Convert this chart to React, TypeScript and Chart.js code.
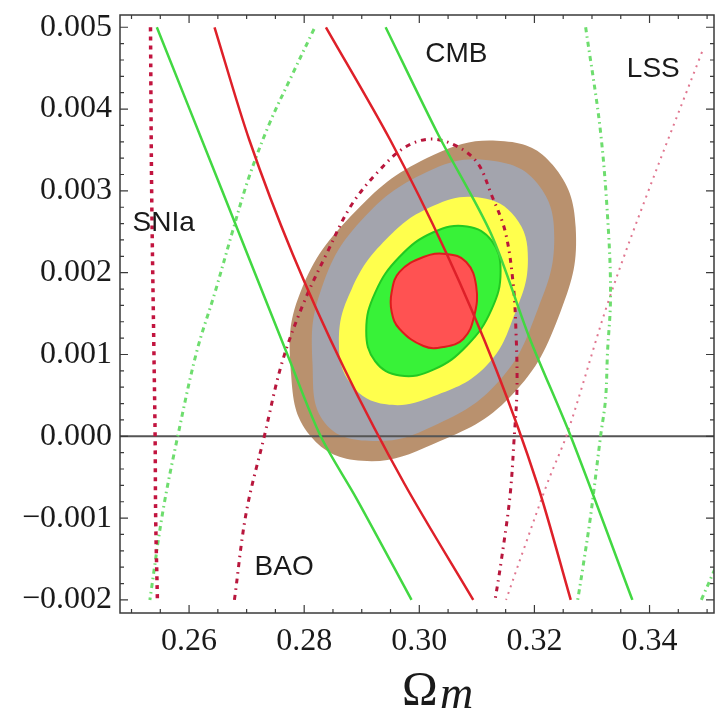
import React, { useEffect, useRef } from "react";
import { Chart, registerables } from "chart.js";

Chart.register(...registerables);

// ---- axes ----
const X_MIN = 0.248;
const X_MAX = 0.3512;
const Y_MIN = -0.00216;
const Y_MAX = 0.00515;
const xMajorTicks = [0.26, 0.28, 0.3, 0.32, 0.34];
const xMinorTicks = [0.25, 0.255, 0.26, 0.265, 0.27, 0.275, 0.28, 0.285, 0.29, 0.295, 0.3, 0.305, 0.31, 0.315, 0.32, 0.325, 0.33, 0.335, 0.34, 0.345, 0.35];
const yMajorTicks = [-0.002, -0.001, 0.0, 0.001, 0.002, 0.003, 0.004, 0.005];
const yMinorTicks = [-0.002, -0.0018, -0.0016, -0.0014, -0.0012, -0.001, -0.0008, -0.0006, -0.0004, -0.0002, 0.0, 0.0002, 0.0004, 0.0006, 0.0008, 0.001, 0.0012, 0.0014, 0.0016, 0.0018, 0.002, 0.0022, 0.0024, 0.0026, 0.0028, 0.003, 0.0032, 0.0034, 0.0036, 0.0038, 0.004, 0.0042, 0.0044, 0.0046, 0.0048, 0.005];

// ---- filled confidence regions (outer to inner), closed loops ----
const brownRegion = [[0.32717,0.002554],[0.3232,0.003317],[0.31481,0.003608],[0.30245,0.003439],[0.28897,0.002754],[0.27929,0.001752],[0.27773,0.000754],[0.28105,0.000006],[0.29009,-0.0003],[0.30245,-0.000094],[0.31593,0.000493],[0.32458,0.001532]];
const grayRegion = [[0.32345,0.002424],[0.3206,0.003084],[0.313,0.003366],[0.30245,0.003268],[0.28983,0.002632],[0.28275,0.001752],[0.28145,0.000884],[0.28361,0.000163],[0.29191,-0.000057],[0.30245,0.000126],[0.31386,0.000676],[0.3206,0.001556]];
const yellowRegion = [[0.31887,0.002163],[0.31668,0.002677],[0.31066,0.002917],[0.30245,0.002819],[0.29424,0.002408],[0.28822,0.001796],[0.28603,0.001145],[0.28822,0.000631],[0.29424,0.000391],[0.30245,0.000489],[0.31161,0.000859],[0.31668,0.001512]];
const greenRegion = [[0.31412,0.002021],[0.31256,0.002392],[0.30829,0.002565],[0.30245,0.002494],[0.29662,0.002198],[0.29234,0.001757],[0.29078,0.001287],[0.29234,0.000916],[0.29662,0.000743],[0.30245,0.000814],[0.30829,0.00111],[0.31256,0.001551]];
const redRegion = [[0.30072,0.002192],[0.3047,0.002229],[0.30815,0.002131],[0.30988,0.001838],[0.30954,0.00147],[0.30764,0.00119],[0.30418,0.001092],[0.30072,0.001104],[0.29657,0.001312],[0.2952,0.001519],[0.2952,0.001764],[0.29657,0.002009]];

// ---- constraint curves ----
const sniaDotted = [[0.2533,0.005],[0.2535,0.003],[0.2539,0.001],[0.2541,0.0],[0.2542,-0.001],[0.2545,-0.002]];
const greenSolidLeft = [[0.2544,0.005],[0.26563,0.003023],[0.27739,0.000945],[0.28287,0.0],[0.28914,-0.000767],[0.29865,-0.002]];
const greenSolidRight = [[0.29415,0.005],[0.30332,0.003683],[0.31248,0.002473],[0.31922,0.00119],[0.32631,0.0],[0.33702,-0.002]];
const redSolidLeft = [[0.26442,0.005],[0.27047,0.003622],[0.27799,0.002229],[0.287,0.000823],[0.29744,-0.000583],[0.30937,-0.002]];
const redSolidRight = [[0.28378,0.005],[0.29495,0.003622],[0.30477,0.002229],[0.31332,0.000823],[0.3205,-0.000583],[0.32631,-0.002]];
const greenDashLeft = [[0.28171,0.004979],[0.27773,0.004392],[0.27393,0.003818],[0.2703,0.003145],[0.26753,0.002498],[0.26442,0.00174],[0.26131,0.001031],[0.25803,0.0],[0.25543,-0.000925],[0.25319,-0.002]];
const greenDashRight = [[0.3289,0.005],[0.33149,0.00372],[0.33287,0.0025],[0.33322,0.00168],[0.3327,0.001031],[0.33236,0.000456],[0.33149,0.0],[0.32976,-0.000974],[0.32838,-0.001622],[0.32752,-0.002]];
const greenDashFar = [[0.349,-0.002],[0.3515,-0.0016]];
const baoDashDot = [[0.26788,-0.002],[0.26995,-0.000925],[0.27307,0.0],[0.27618,0.000908],[0.27998,0.001642],[0.28396,0.002241],[0.2881,0.002815],[0.29294,0.003243],[0.29761,0.003537],[0.30211,0.003634],[0.30677,0.003537],[0.31023,0.003329],[0.31248,0.002962],[0.3149,0.00251],[0.31628,0.001886],[0.3168,0.001275],[0.31697,0.000578],[0.3165,0.0],[0.31576,-0.00073],[0.31421,-0.001537],[0.31317,-0.002]];
const lssDotted = [[0.34912,0.004698],[0.33927,0.002901],[0.33287,0.001654],[0.32579,0.000053],[0.32233,-0.000558],[0.31835,-0.00134],[0.31507,-0.002]];
const zeroLine = [[X_MIN,0],[X_MAX,0]];

// ---- text annotations (data coordinates) ----
const annotations = [
  { text: "SNIa", x: 0.2556, y: 0.00261 },
  { text: "CMB", x: 0.30643, y: 0.00467 },
  { text: "LSS", x: 0.34065, y: 0.00449 },
  { text: "BAO", x: 0.27652, y: -0.0016 },
];

const pts = (a: number[][]) => a.map(([x, y]) => ({ x, y }));

const fmtY = (v: number) => {
  const s = Math.abs(v).toFixed(3);
  return v < -1e-12 ? "\u2212" + s : s;
};

// make the region datasets closed smooth loops (like radar lines)
const loopPlugin = {
  id: "closedLoops",
  afterUpdate(chart: any) {
    chart.data.datasets.forEach((ds: any, i: number) => {
      if (ds.closedLoop) {
        const line = chart.getDatasetMeta(i).dataset;
        if (line) {
          line._loop = true;
          line._fullLoop = true;
          line._pointsUpdated = false;
          delete line._segments;
          line._path = undefined;
        }
      }
    });
  },
};

const framePlugin = {
  id: "frameTicks",
  afterDatasetsDraw(chart: any) {
    const { ctx, chartArea: a, scales } = chart;
    const xs = scales.x;
    const ys = scales.y;
    ctx.save();
    ctx.strokeStyle = "#3a3a3a";
    ctx.lineWidth = 1.5;
    ctx.strokeRect(a.left, a.top, a.right - a.left, a.bottom - a.top);
    ctx.lineWidth = 1.2;
    ctx.beginPath();
    const drawX = (v: number, len: number) => {
      const p = xs.getPixelForValue(v);
      if (p < a.left || p > a.right) return;
      ctx.moveTo(p, a.bottom); ctx.lineTo(p, a.bottom - len);
      ctx.moveTo(p, a.top); ctx.lineTo(p, a.top + len);
    };
    const drawY = (v: number, len: number) => {
      const p = ys.getPixelForValue(v);
      if (p < a.top || p > a.bottom) return;
      ctx.moveTo(a.left, p); ctx.lineTo(a.left + len, p);
      ctx.moveTo(a.right, p); ctx.lineTo(a.right - len, p);
    };
    xMinorTicks.forEach((v) => drawX(v, 4));
    xMajorTicks.forEach((v) => drawX(v, 8));
    yMinorTicks.forEach((v) => drawY(v, 4));
    yMajorTicks.forEach((v) => drawY(v, 8));
    ctx.stroke();

    // annotations
    ctx.fillStyle = "#1a1a1a";
    ctx.font = "28px 'Liberation Sans', Arial, sans-serif";
    ctx.textAlign = "center";
    ctx.textBaseline = "middle";
    annotations.forEach((t) => {
      ctx.fillText(t.text, xs.getPixelForValue(t.x), ys.getPixelForValue(t.y));
    });

    // x axis title  Omega_m
    ctx.textAlign = "left";
    ctx.textBaseline = "alphabetic";
    ctx.font = "48px 'Liberation Serif', 'Times New Roman', serif";
    ctx.fillText("\u03A9", 402, 705);
    ctx.font = "italic 46px 'Liberation Serif', 'Times New Roman', serif";
    ctx.fillText("m", 440, 708);
    ctx.restore();
  },
};

export default function App() {
  const ref = useRef<HTMLCanvasElement>(null);
  useEffect(() => {
    if (!ref.current) return;
    const line = (data: number[][], color: string, width: number, dash: number[], order: number, tension = 0.35) => ({
      data: pts(data),
      showLine: true,
      borderColor: color,
      borderWidth: width,
      borderDash: dash,
      pointRadius: 0,
      fill: false,
      tension,
      order,
    });
    const region = (data: number[][], fillColor: string, border: string, bw: number, order: number) => ({
      data: pts(data),
      showLine: true,
      closedLoop: true,
      backgroundColor: fillColor,
      borderColor: border,
      borderWidth: bw,
      pointRadius: 0,
      fill: "shape",
      tension: 0.42,
      order,
    });
    const chart = new Chart(ref.current, {
      type: "scatter",
      data: {
        datasets: [
          region(brownRegion, "#b9916e", "#b9916e", 0, 100),
          region(grayRegion, "#a3a4ad", "#a3a4ad", 0, 99),
          region(yellowRegion, "#ffff4d", "#ffff4d", 0, 98),
          region(greenRegion, "#38f238", "#22c922", 2, 97),
          region(redRegion, "#ff5252", "#dd1c1c", 2, 96),
          line(zeroLine, "#555555", 2, [], 60, 0),
          line(lssDotted, "#e0768f", 2, [2, 5], 20),
          line(greenDashLeft, "#6edd6e", 3, [5, 4, 1.5, 4], 19),
          line(greenDashRight, "#6edd6e", 3, [5, 4, 1.5, 4], 18),
          line(greenDashFar, "#6edd6e", 3, [5, 4, 1.5, 4], 17),
          line(baoDashDot, "#b8163c", 3, [5, 5, 1.5, 5], 16),
          line(sniaDotted, "#c2143f", 3.5, [4, 5], 15),
          line(greenSolidLeft, "#42d842", 2.5, [], 14, 0.3),
          line(greenSolidRight, "#42d842", 2.5, [], 13, 0.3),
          line(redSolidLeft, "#de2029", 2.5, [], 12, 0.3),
          line(redSolidRight, "#de2029", 2.5, [], 11, 0.3),
        ],
      },
      options: {
        responsive: false,
        animation: false,
        events: [],
        layout: { padding: { top: 15, right: 4, left: 0, bottom: 0 } },
        plugins: { legend: { display: false }, tooltip: { enabled: false }, title: { display: false } },
        scales: {
          x: {
            type: "linear",
            min: X_MIN,
            max: X_MAX,
            grid: { display: false, drawTicks: false },
            border: { display: false },
            afterBuildTicks: (s: any) => { s.ticks = xMajorTicks.map((v) => ({ value: v })); },
            afterFit: (s: any) => { s.height = 110; s.paddingLeft = 0; s.paddingRight = 0; },
            ticks: {
              padding: 9,
              color: "#1a1a1a",
              font: { family: "'Liberation Serif', 'Times New Roman', serif", size: 32 },
              maxRotation: 0,
              autoSkip: false,
              callback: (v: any) => Number(v).toFixed(2),
            },
          },
          y: {
            type: "linear",
            min: Y_MIN,
            max: Y_MAX,
            grid: { display: false, drawTicks: false },
            border: { display: false },
            afterBuildTicks: (s: any) => { s.ticks = yMajorTicks.map((v) => ({ value: v })); },
            afterFit: (s: any) => { s.width = 120; s.paddingTop = 0; s.paddingBottom = 0; },
            ticks: {
              padding: 8,
              color: "#1a1a1a",
              font: { family: "'Liberation Serif', 'Times New Roman', serif", size: 32 },
              autoSkip: false,
              callback: (v: any) => fmtY(Number(v)),
            },
          },
        },
      },
      plugins: [loopPlugin, framePlugin],
    } as any);
    return () => chart.destroy();
  }, []);
  return (
    <div style={{ position: "absolute", left: 0, top: 0, width: 718, height: 723, background: "#fff" }}>
      <canvas ref={ref} width={718} height={723} style={{ display: "block" }} />
    </div>
  );
}
